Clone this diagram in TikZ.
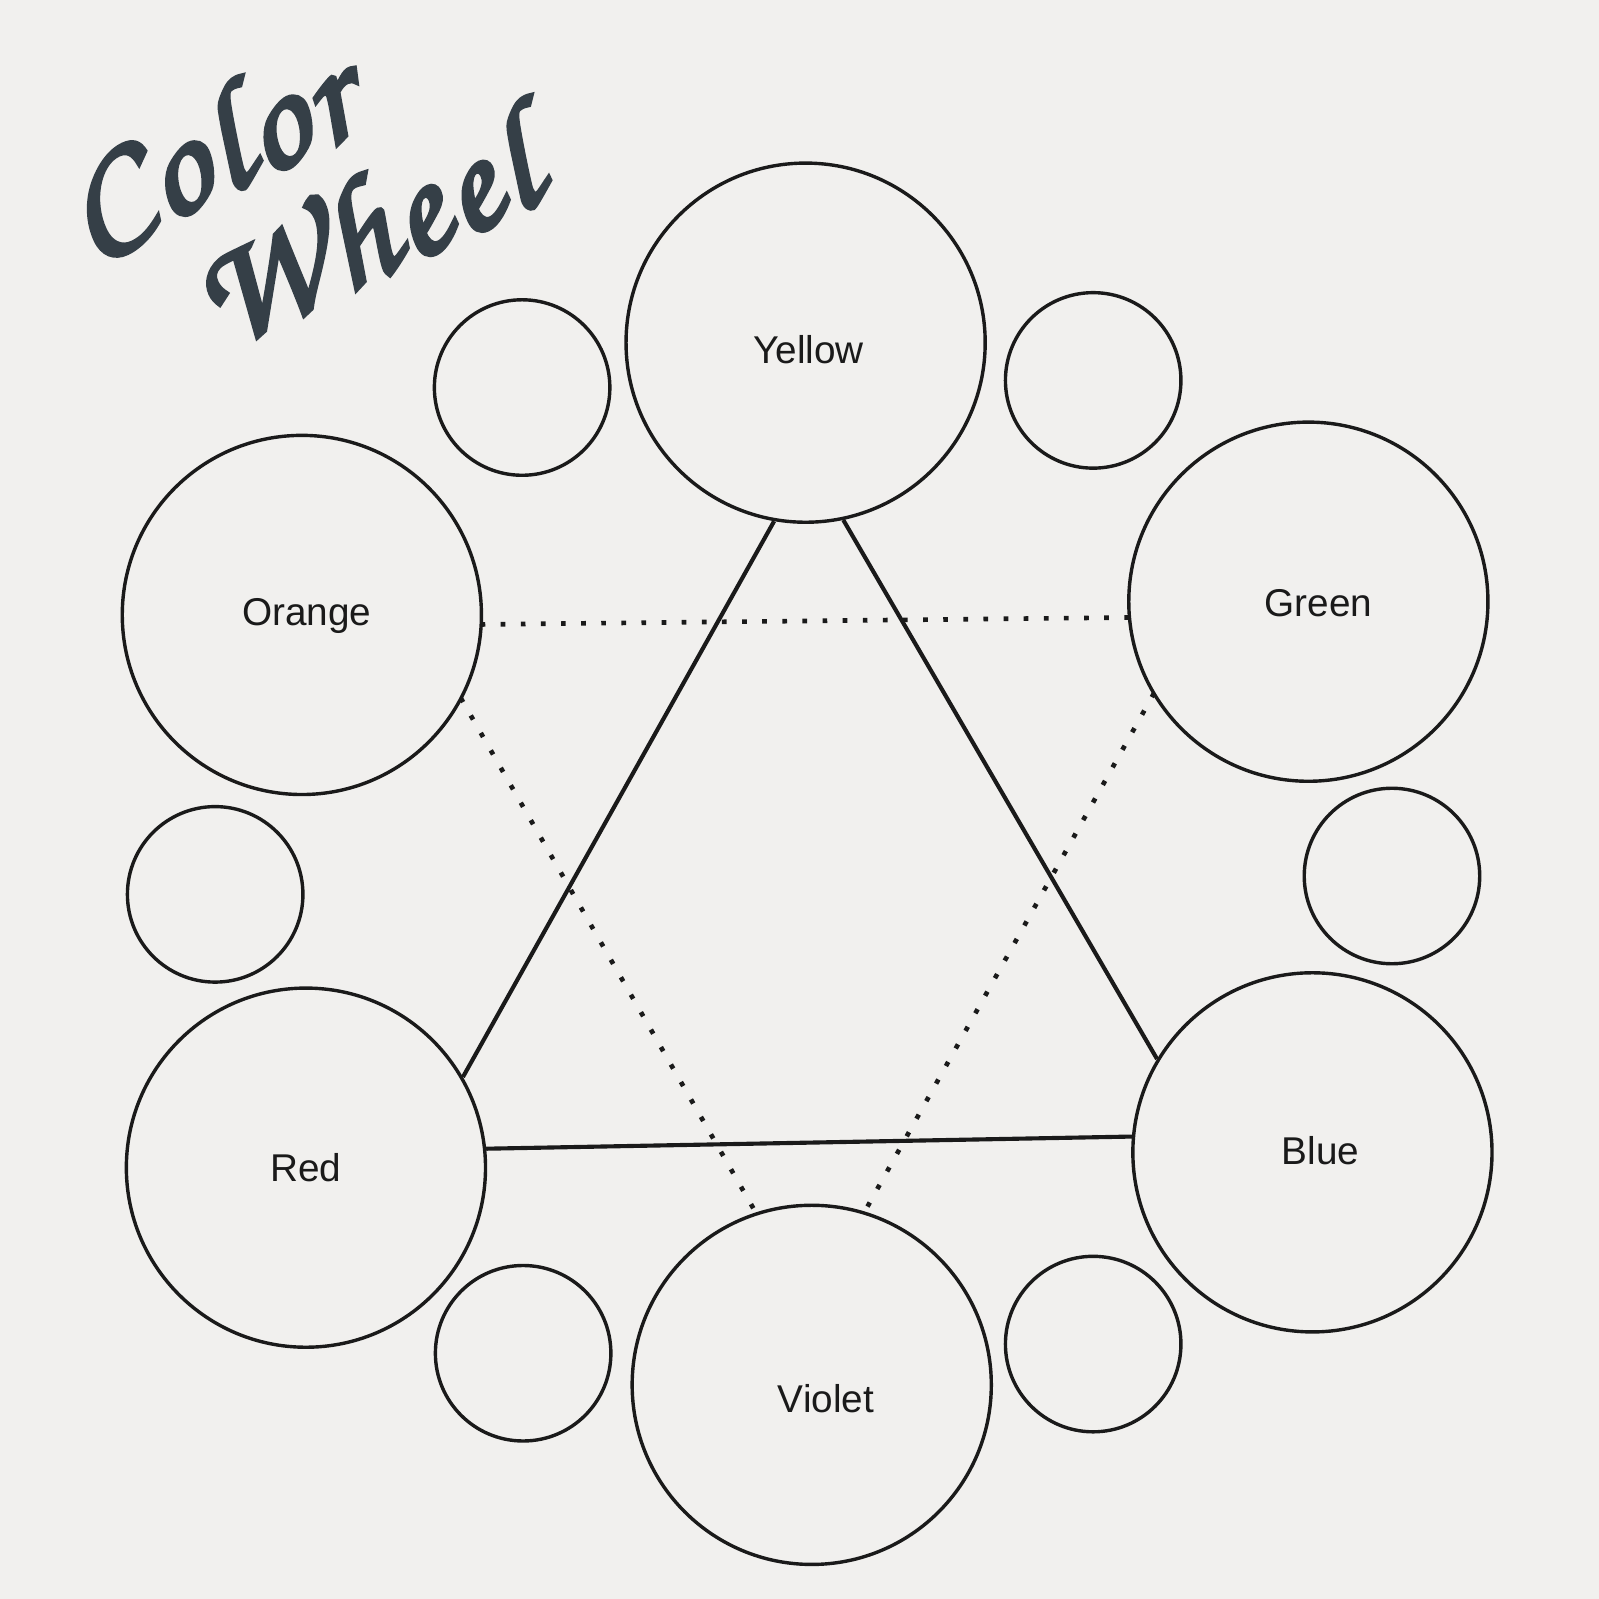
\documentclass[tikz,border=0pt]{standalone}
\usepackage{fontspec}
\setmainfont{Liberation Sans}
\newfontfamily\titlefont[FakeBold=3,LetterSpace=4]{texgyrechorus-mediumitalic.otf}
\definecolor{paper}{HTML}{F1F0EE}
\definecolor{ink}{HTML}{1A1A1A}
\definecolor{titleink}{HTML}{353F47}
\begin{document}
\begin{tikzpicture}[x=0.01cm,y=-0.01cm,
  big/.style={circle,draw=ink,line width=0.95pt,minimum size=3.52cm,inner sep=0pt},
  small/.style={circle,draw=ink,line width=0.95pt,minimum size=1.72cm,inner sep=0pt},
  lab/.style={font=\fontsize{10.8}{12}\selectfont,text=ink},
  solidline/.style={draw=ink,line width=1.15pt},
  dotline/.style={draw=ink,line width=1.3pt,line cap=rect,dash pattern=on 0.01pt off 5.6pt},
  ttl/.style={font=\titlefont\fontsize{42}{39}\selectfont,text=titleink,rotate=25,inner sep=0pt,align=left}]
\fill[paper] (0,0) rectangle (1568,1568);
\useasboundingbox (0,0) rectangle (1568,1568);
% title
\node[ttl] (title) at (292,180) {Color\\\hspace*{22pt}Wheel};
% big circles
\node[big] (Y) at (790,336) {};
\node[big] (O) at (296,603) {};
\node[big] (G) at (1283,590) {};
\node[big] (R) at (300,1145) {};
\node[big] (B) at (1287,1130) {};
\node[big] (V) at (796,1358) {};
% small circles
\node[small] (s1) at (512,380) {};
\node[small] (s2) at (1072,373) {};
\node[small] (s3) at (211,877) {};
\node[small] (s4) at (1365,859) {};
\node[small] (s5) at (513,1327) {};
\node[small] (s6) at (1072,1318) {};
% labels
\node[lab] (lY) at (793,343) {Yellow};
\node[lab] (lO) at (301,604) {Orange};
\node[lab] (lG) at (1293,591) {Green};
\node[lab] (lR) at (300,1145) {Red};
\node[lab] (lB) at (1295,1128) {Blue};
\node[lab] (lV) at (810,1372) {Violet};
% triangle
\draw[solidline] (Y.260.5) -- (R.30);
\draw[solidline] (Y.282.8) -- (B.149.4);
\draw[solidline] (R.6.4) -- (B.175);
% dotted triangle
\draw[dotline] (O.-3.9) -- (G.185);
\draw[dotline] (O.-28.7) -- (V.108.5);
\draw[dotline] (G.211.8) -- (V.73);
\end{tikzpicture}
\end{document}
